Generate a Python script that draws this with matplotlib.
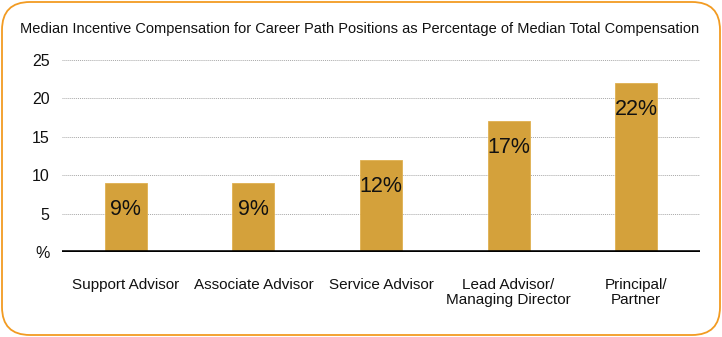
import matplotlib
matplotlib.use("Agg")
import matplotlib.pyplot as plt
from matplotlib.patches import FancyBboxPatch
from matplotlib.transforms import IdentityTransform

plt.rcParams['font.family'] = ['Liberation Sans', 'DejaVu Sans']

categories = ["Support Advisor", "Associate Advisor", "Service Advisor",
              "Lead Advisor/\nManaging Director", "Principal/\nPartner"]
values = [9, 9, 12, 17, 22]
yticks = [0, 5, 10, 15, 20, 25]
ytick_labels = ["%", "5", "10", "15", "20", "25"]
title = "Median Incentive Compensation for Career Path Positions as Percentage of Median Total Compensation"

bar_color = "#D4A13B"
border_color = "#F29B22"

fig = plt.figure(figsize=(7.22, 3.37), dpi=100)
W, H = 722, 337

ax = fig.add_axes([62 / W, 85 / H, 638 / W, 192 / H])
ax.set_facecolor("none")
x = range(len(categories))
bars = ax.bar(x, values, width=0.33, color=bar_color, edgecolor="#E0B050",
              linewidth=0.6, zorder=2)
for xi, v in zip(x, values):
    ax.annotate(f"{v}%", (xi, v), xytext=(0, -19), textcoords="offset points",
                ha="center", va="center", fontsize=15.5, color="#111111", zorder=3)

ax.set_xlim(-0.5, len(categories) - 0.5)
ax.set_ylim(0, 25)
ax.set_yticks(yticks)
ax.set_yticklabels(ytick_labels)
ax.set_xticks(list(x))
ax.set_xticklabels(categories, linespacing=1.05)
ax.tick_params(axis="y", length=0, pad=9, labelsize=11.5, colors="#111111")
ax.tick_params(axis="x", length=0, pad=19, labelsize=11, colors="#111111")
for s in ax.spines.values():
    s.set_visible(False)
ax.grid(axis="y", color="#a8a8a8", linestyle=(0, (1, 1)), linewidth=0.7, zorder=1)
ax.set_axisbelow(True)
ax.axhline(0, color="black", linewidth=2.6, zorder=4)

fig.text(20 / W, 1 - 29 / H, title, fontsize=10.5, color="#111111",
         ha="left", va="center")

# rounded orange frame
frame = FancyBboxPatch((2, 2), W - 4, H - 4,
                       boxstyle="round,pad=0,rounding_size=28",
                       transform=IdentityTransform(), facecolor="none",
                       edgecolor=border_color, linewidth=1.3, zorder=5)
fig.patches.append(frame)

fig.savefig("out.png", dpi=100)
